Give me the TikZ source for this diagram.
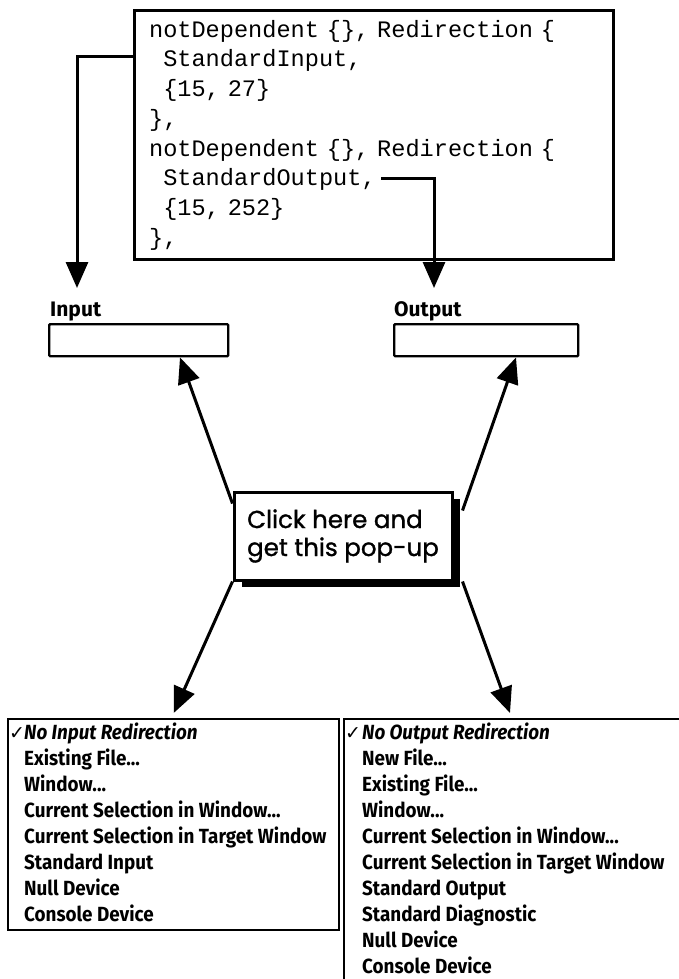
\documentclass[tikz,border=0pt]{standalone}
\usepackage{fontspec}
\newfontfamily\codefont{Liberation Mono}
\newfontfamily\chifont[FakeStretch=0.92]{Fira Sans}
\newfontfamily\lblfont{Fira Sans}
\newfontfamily\popfont[FakeBold=1.2]{Poppins}
\newfontfamily\symfont{DejaVu Sans}
\usetikzlibrary{arrows.meta,shadows}

\begin{document}
\begin{tikzpicture}[x=1pt, y=-1pt,
  conn/.style={line width=3pt, -{Triangle[length=26pt,width=22pt]}},
  codebox/.style={draw, line width=3.2pt, minimum width=479pt, minimum height=249pt, inner xsep=14pt,
    text width=450pt, align=left, font=\codefont\fontsize{23.6}{29.7}\selectfont},
  field/.style={draw, line width=2.4pt, rounded corners=1pt, minimum width=179pt, minimum height=32pt},
  lbl/.style={inner sep=0pt, font=\lblfont\bfseries\fontsize{21}{21}\selectfont},
  popup/.style={draw, line width=3pt, fill=white, minimum width=218pt, minimum height=88pt, align=left,
    font=\popfont\fontsize{24.5}{28}\selectfont,
    drop shadow={shadow xshift=8pt, shadow yshift=-7pt, fill=black, opacity=1}},
  menubox/.style={draw, line width=2.4pt, inner sep=0pt},
  menutext/.style={inner sep=0pt, align=left, font=\chifont\bfseries\fontsize{20.5}{26}\selectfont}]
\useasboundingbox (0,0) rectangle (679,979);
\clip (0,0) rectangle (679,979);

% the code fragment
\node[codebox, anchor=north west] (code) at (133,9) {%
notDependent \{\}, Redirection \{\\
\phantom{x}StandardInput,\\
\phantom{x}\{15, 27\}\\
\},\\
notDependent \{\}, Redirection \{\\
\phantom{x}StandardOutput,\\
\phantom{x}\{15, 252\}\\
\},};
\coordinate (insrc) at (133,57);
\coordinate (indrop) at (77,288);
\coordinate (outsrc) at (381,178);
\coordinate (outdrop) at (434,288);
\draw[conn] (insrc) -| (indrop);
\draw[conn] (outsrc) -| (outdrop);

% the two fields
\node[lbl, anchor=base west] (inlabel) at (50,316) {Input};
\node[lbl, anchor=base west] (outlabel) at (394,316) {Output};
\node[field, anchor=north west] (infield) at (48,323) {};
\node[field, anchor=north west, minimum width=184pt] (outfield) at (393,323) {};

% pop-up hint
\node[popup] (popup) at (343,536) {Click here and\\get this pop-up};
\draw[conn] ([yshift=-13pt]popup.north west) -- ([xshift=132pt]infield.south west);
\draw[conn] ([shift={(9pt,-20pt)}]popup.north east) -- ([xshift=123pt]outfield.south west);

% the menus
\node[menubox, anchor=north west, minimum width=331pt, minimum height=211pt] (inmenu) at (7,718) {};
\node[menubox, anchor=north west, minimum width=345pt, minimum height=290pt] (outmenu) at (343,718) {};
\draw[conn] (popup.south west) -- ([yshift=5pt]inmenu.north);
\draw[conn] ([xshift=9pt]popup.south east) -- ([shift={(167pt,5pt)}]outmenu.north west);

\node[menutext, anchor=north west] (initems) at (9,723) {%
\makebox[15pt][l]{\symfont\bfseries\fontsize{19}{19}\selectfont ✓}{\itshape No Input Redirection}\\
\hspace*{15pt}Existing File...\\
\hspace*{15pt}Window...\\
\hspace*{15pt}Current Selection in Window...\\
\hspace*{15pt}Current Selection in Target Window\\
\hspace*{15pt}Standard Input\\
\hspace*{15pt}Null Device\\
\hspace*{15pt}Console Device};
\node[menutext, anchor=north west] (outitems) at (345,723) {%
\makebox[17pt][l]{\symfont\bfseries\fontsize{19}{19}\selectfont ✓}{\itshape No Output Redirection}\\
\hspace*{17pt}New File...\\
\hspace*{17pt}Existing File...\\
\hspace*{17pt}Window...\\
\hspace*{17pt}Current Selection in Window...\\
\hspace*{17pt}Current Selection in Target Window\\
\hspace*{17pt}Standard Output\\
\hspace*{17pt}Standard Diagnostic\\
\hspace*{17pt}Null Device\\
\hspace*{17pt}Console Device};
\end{tikzpicture}
\end{document}
